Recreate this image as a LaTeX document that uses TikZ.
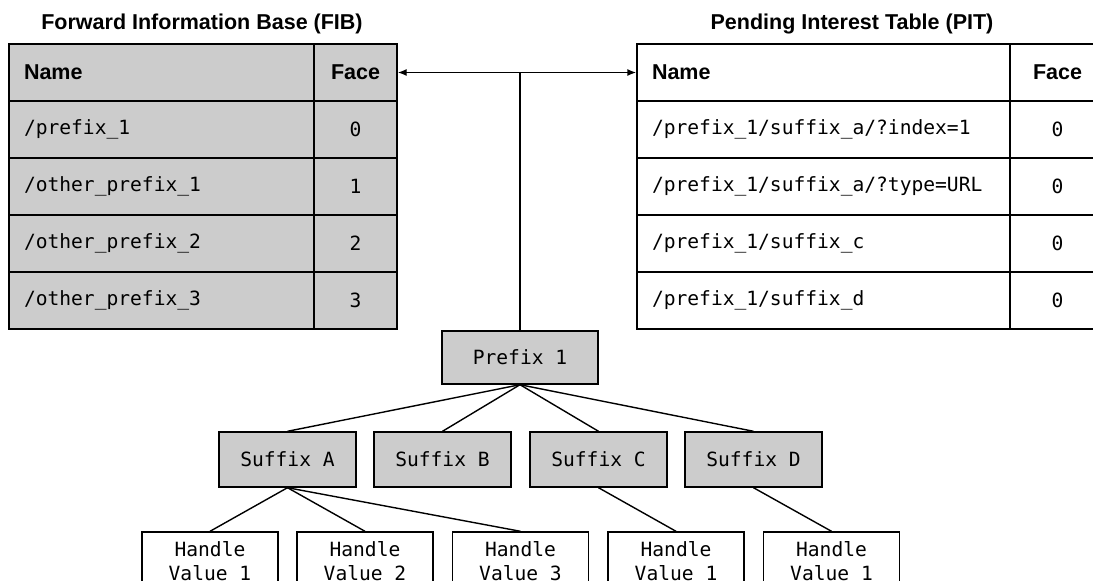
\documentclass[tikz,border=0pt]{standalone}
\usepackage{fontspec}
\setmainfont{Liberation Sans}
\setmonofont{DejaVu Sans Mono}
\usetikzlibrary{arrows.meta}
\definecolor{cellgray}{RGB}{204,204,204}
\begin{document}
\begin{tikzpicture}[x=1pt,y=-1pt,
  base/.style={draw=black,line width=1.4pt,inner sep=0pt},
  namecell/.style={base,minimum height=57pt,inner xsep=15pt,align=left,font=\fontsize{19.6}{24}\selectfont\ttfamily},
  facecell/.style={base,minimum height=57pt,align=center,font=\fontsize{19.6}{24}\selectfont\ttfamily},
  hdr/.style={font=\fontsize{21.5}{25}\selectfont\bfseries},
  title/.style={font=\fontsize{21.5}{25}\selectfont\bfseries},
  fibname/.style={namecell,text width=275pt,fill=cellgray},
  fibface/.style={facecell,minimum width=83pt,fill=cellgray},
  pitname/.style={namecell,text width=343pt,fill=white},
  pitface/.style={facecell,minimum width=95pt,fill=white},
  treebox/.style={base,fill=cellgray,font=\fontsize{19.6}{24}\selectfont\ttfamily,align=center},
  leafbox/.style={base,fill=white,minimum width=136pt,minimum height=58pt,font=\fontsize{19.6}{24}\selectfont\ttfamily,align=center},
  link/.style={line width=1.4pt},
  arr/.style={line width=1.4pt,{Latex[length=9pt,width=7pt]}-{Latex[length=9pt,width=7pt]}}
]
\useasboundingbox (0,0) rectangle (1093,581);
\clip (0,0) rectangle (1093,581);

% titles
\node[title] (fibtitle) at (202,24) {Forward Information Base (FIB)};
\node[title] (pittitle) at (852,24) {Pending Interest Table (PIT)};

% FIB table
\node[fibname,hdr] (fibN0) at (161.5,72.5) {Name};
\node[fibface,hdr] (fibF0) at (355.5,72.5) {Face};
\node[fibname] (fibN1) at (161.5,129.5) {/prefix\_1};
\node[fibface] (fibF1) at (355.5,129.5) {0};
\node[fibname] (fibN2) at (161.5,186.5) {/other\_prefix\_1};
\node[fibface] (fibF2) at (355.5,186.5) {1};
\node[fibname] (fibN3) at (161.5,243.5) {/other\_prefix\_2};
\node[fibface] (fibF3) at (355.5,243.5) {2};
\node[fibname] (fibN4) at (161.5,300.5) {/other\_prefix\_3};
\node[fibface] (fibF4) at (355.5,300.5) {3};

% PIT table
\node[pitname,hdr] (pitN0) at (823.5,72.5) {Name};
\node[pitface,hdr] (pitF0) at (1057.5,72.5) {Face};
\node[pitname] (pitN1) at (823.5,129.5) {/prefix\_1/suffix\_a/?index=1};
\node[pitface] (pitF1) at (1057.5,129.5) {0};
\node[pitname] (pitN2) at (823.5,186.5) {/prefix\_1/suffix\_a/?type=URL};
\node[pitface] (pitF2) at (1057.5,186.5) {0};
\node[pitname] (pitN3) at (823.5,243.5) {/prefix\_1/suffix\_c};
\node[pitface] (pitF3) at (1057.5,243.5) {0};
\node[pitname] (pitN4) at (823.5,300.5) {/prefix\_1/suffix\_d};
\node[pitface] (pitF4) at (1057.5,300.5) {0};

% tree
\node[treebox,minimum width=156pt,minimum height=53pt] (prefix) at (520,357.5) {Prefix 1};
\node[treebox,minimum width=137pt,minimum height=55pt] (sA) at (287.5,459.5) {Suffix A};
\node[treebox,minimum width=137pt,minimum height=55pt] (sB) at (442.5,459.5) {Suffix B};
\node[treebox,minimum width=137pt,minimum height=55pt] (sC) at (598.5,459.5) {Suffix C};
\node[treebox,minimum width=137pt,minimum height=55pt] (sD) at (753.5,459.5) {Suffix D};

\node[leafbox] (h1) at (210,561) {Handle\\Value 1};
\node[leafbox] (h2) at (365,561) {Handle\\Value 2};
\node[leafbox] (h3) at (520.5,561) {Handle\\Value 3};
\node[leafbox] (h4) at (676,561) {Handle\\Value 1};
\node[leafbox] (h5) at (831.5,561) {Handle\\Value 1};

% connectors
\draw[arr] (fibF0.east) -- (pitN0.west);
\draw[link] (prefix.north) -- (prefix.north |- fibF0.east);
\draw[link] (prefix.south) -- (sA.north);
\draw[link] (prefix.south) -- (sB.north);
\draw[link] (prefix.south) -- (sC.north);
\draw[link] (prefix.south) -- (sD.north);
\draw[link] (sA.south) -- (h1.north);
\draw[link] (sA.south) -- (h2.north);
\draw[link] (sA.south) -- (h3.north);
\draw[link] (sC.south) -- (h4.north);
\draw[link] (sD.south) -- (h5.north);
\end{tikzpicture}
\end{document}
